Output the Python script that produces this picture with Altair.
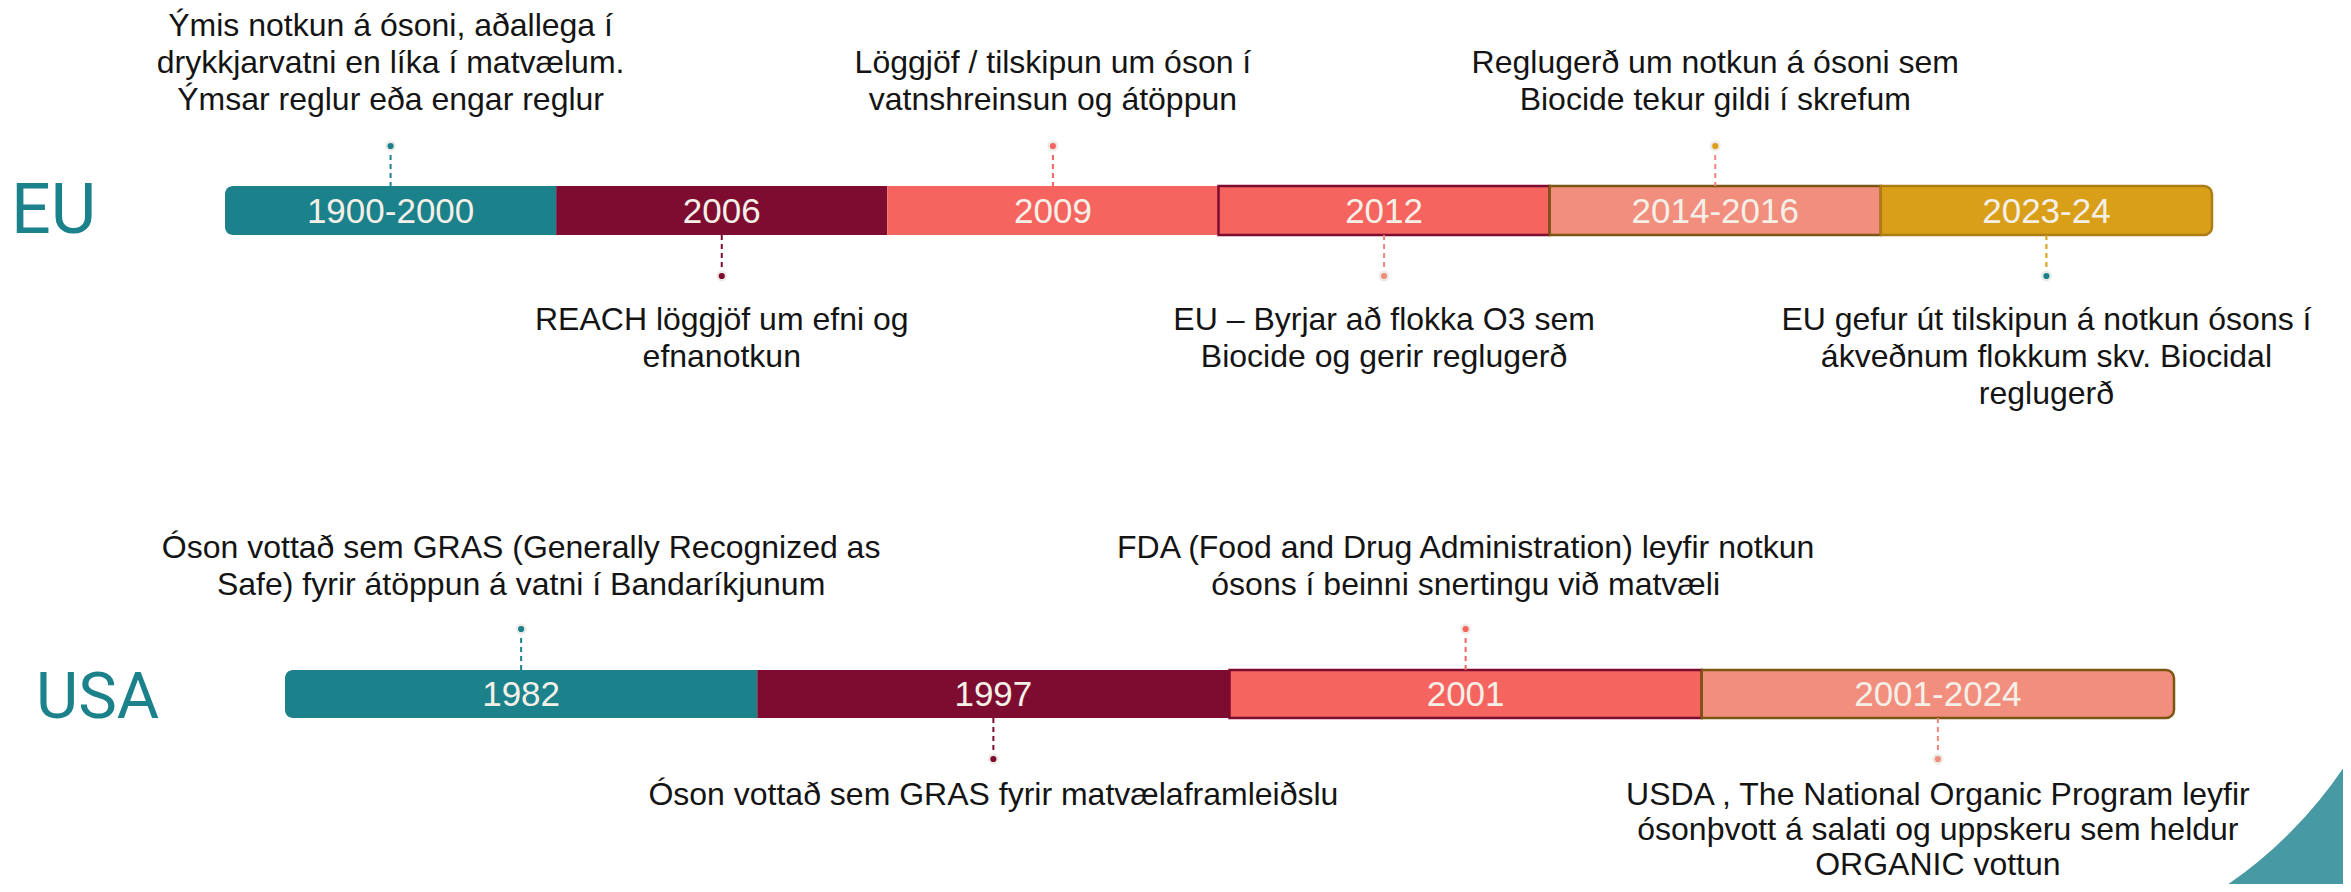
import math
import altair as alt
import pandas as pd

# ---------------- data ----------------
eu_periods = ["1900-2000", "2006", "2009", "2012", "2014-2016", "2023-24"]
eu_events = [
    "Ýmis notkun á ósoni, aðallega í\ndrykkjarvatni en líka í matvælum.\nÝmsar reglur eða engar reglur",
    "REACH löggjöf um efni og\nefnanotkun",
    "Löggjöf / tilskipun um óson í\nvatnshreinsun og átöppun",
    "EU – Byrjar að flokka O3 sem\nBiocide og gerir reglugerð",
    "Reglugerð um notkun á ósoni sem\nBiocide tekur gildi í skrefum",
    "EU gefur út tilskipun á notkun ósons í\nákveðnum flokkum skv. Biocidal\nreglugerð",
]
eu_side = ["above", "below", "above", "below", "above", "below"]

usa_periods = ["1982", "1997", "2001", "2001-2024"]
usa_events = [
    "Óson vottað sem GRAS (Generally Recognized as\nSafe) fyrir átöppun á vatni í Bandaríkjunum",
    "Óson vottað sem GRAS fyrir matvælaframleiðslu",
    "FDA (Food and Drug Administration) leyfir notkun\nósons í beinni snertingu við matvæli",
    "USDA , The National Organic Program leyfir\nósonþvott á salati og uppskeru sem heldur\nORGANIC vottun",
]
usa_side = ["above", "below", "above", "below"]

# ---------------- styles ----------------
TEAL = "#1b818b"
MAROON = "#7e0b30"
CORAL = "#f5645e"
SALMON = "#f28e7d"
PINK_LINE = "#f0857c"
GOLD = "#d99f19"
BROWN = "#7a5613"
DKGOLD = "#ad7d14"
NONE = "transparent"
TEXT = "#141414"
LABEL = "#f4f0e8"
HALO = "#ecebe6"
DECO = "#4799a3"

eu_fill = [TEAL, MAROON, CORAL, CORAL, SALMON, GOLD]
eu_stroke = [NONE, NONE, NONE, MAROON, BROWN, DKGOLD]
eu_line = [TEAL, MAROON, CORAL, PINK_LINE, PINK_LINE, GOLD]
eu_dot = [TEAL, MAROON, CORAL, SALMON, GOLD, TEAL]

usa_fill = [TEAL, MAROON, CORAL, SALMON]
usa_stroke = [NONE, NONE, MAROON, BROWN]
usa_line = [TEAL, MAROON, CORAL, PINK_LINE]
usa_dot = [TEAL, MAROON, CORAL, SALMON]

W, H = 2335, 876
FONT = "Liberation Sans"
LINE_H = 37

eu_geom = dict(left=217, right=2204, top=178, bot=227, dot_above=138, dot_below=268,
               text_above=109, text_below=297, below_lh=37, lx=3, ly=225, lsize=70)
usa_geom = dict(left=277, right=2166, top=662, bot=710, dot_above=621, dot_below=751,
                text_above=594, text_below=772, below_lh=35, lx=28, ly=710, lsize=65)


def build_row(name, periods, events, side, fills, strokes, lines, dots, g):
    n = len(periods)
    df = pd.DataFrame({
        "period": periods,
        "event": events,
        "side": side,
        "start": list(range(n)),
        "fill": fills,
        "stroke": strokes,
        "line": lines,
        "dot": dots,
    })
    df["end"] = df["start"] + 1
    df["mid"] = df["start"] + 0.5

    seg = (g["right"] - g["left"]) / n
    u0 = -g["left"] / seg
    u1 = u0 + W / seg
    xs = alt.Scale(domain=[u0, u1], nice=False, zero=False)

    base = alt.Chart(df)
    xstart = alt.X("start:Q", scale=xs, axis=None)
    xmid = alt.X("mid:Q", scale=xs, axis=None)

    def rect(filt, **corners):
        return base.transform_filter(filt).mark_rect(strokeWidth=2.5, **corners).encode(
            x=xstart, x2="end:Q",
            y=alt.value(g["top"]), y2=alt.value(g["bot"]),
            fill=alt.Fill("fill:N", scale=None),
            stroke=alt.Stroke("stroke:N", scale=None),
        )

    first = rect(alt.datum.start == 0, cornerRadiusTopLeft=8, cornerRadiusBottomLeft=8)
    middle = rect((alt.datum.start > 0) & (alt.datum.start < n - 1))
    last = rect(alt.datum.start == n - 1, cornerRadiusTopRight=8, cornerRadiusBottomRight=8)

    above = base.transform_filter(alt.datum.side == "above")
    below = base.transform_filter(alt.datum.side == "below")

    rule_a = above.mark_rule(strokeDash=[5, 4], strokeWidth=2).encode(
        x=xmid, y=alt.value(g["dot_above"]), y2=alt.value(g["top"]),
        color=alt.Color("line:N", scale=None))
    rule_b = below.mark_rule(strokeDash=[5, 4], strokeWidth=2).encode(
        x=xmid, y=alt.value(g["bot"]), y2=alt.value(g["dot_below"]),
        color=alt.Color("line:N", scale=None))

    halo_a = above.mark_circle(size=120, color=HALO, opacity=1).encode(
        x=xmid, y=alt.value(g["dot_above"]))
    halo_b = below.mark_circle(size=120, color=HALO, opacity=1).encode(
        x=xmid, y=alt.value(g["dot_below"]))
    dot_a = above.mark_circle(size=38, opacity=1).encode(
        x=xmid, y=alt.value(g["dot_above"]), color=alt.Color("dot:N", scale=None))
    dot_b = below.mark_circle(size=38, opacity=1).encode(
        x=xmid, y=alt.value(g["dot_below"]), color=alt.Color("dot:N", scale=None))

    # texts above the bar are bottom-aligned: first line moves up by the number of extra lines
    txt_a = above.transform_calculate(
        ty=f"{g['text_above']} - (length(split(datum.event, '\\n')) - 1) * {LINE_H}"
    ).mark_text(align="center", baseline="bottom", lineBreak="\n", fontSize=32,
                lineHeight=LINE_H, font=FONT, color=TEXT).encode(
        x=xmid, y=alt.Y("ty:Q", scale=None), text="event:N")
    txt_b = below.mark_text(align="center", baseline="top", lineBreak="\n", fontSize=32,
                            lineHeight=g["below_lh"], font=FONT, color=TEXT).encode(
        x=xmid, y=alt.value(g["text_below"]), text="event:N")

    bar_lbl = base.mark_text(align="center", baseline="middle", fontSize=35, font=FONT,
                             color=LABEL).encode(
        x=xmid, y=alt.value((g["top"] + g["bot"]) / 2 + 1), text="period:N")

    row_lbl = alt.Chart(pd.DataFrame({"row": [name]})).mark_text(
        align="left", baseline="alphabetic", fontSize=g["lsize"], font="Roboto",
        color=TEAL).encode(x=alt.value(g["lx"]), y=alt.value(g["ly"]), text="row:N")

    return alt.layer(first, middle, last, rule_a, rule_b, halo_a, halo_b, dot_a, dot_b,
                     txt_a, txt_b, bar_lbl, row_lbl)


eu = build_row("EU", eu_periods, eu_events, eu_side, eu_fill, eu_stroke, eu_line, eu_dot, eu_geom)
usa = build_row("USA", usa_periods, usa_events, usa_side, usa_fill, usa_stroke, usa_line,
                usa_dot, usa_geom)

deco = alt.Chart(pd.DataFrame({"d": [0]})).mark_arc(
    theta=math.pi / 2, theta2=math.pi, radius=900, radius2=441, color=DECO
).encode(x=alt.value(1970), y=alt.value(513))

chart = (
    alt.layer(deco, eu, usa)
    .resolve_scale(x="independent")
    .properties(width=W, height=H, padding=0, autosize=alt.AutoSizeParams(type="none"),
                background="white")
    .configure_view(stroke=None)
)

chart.save("out.html", embed_options={"renderer": "svg", "actions": False})
